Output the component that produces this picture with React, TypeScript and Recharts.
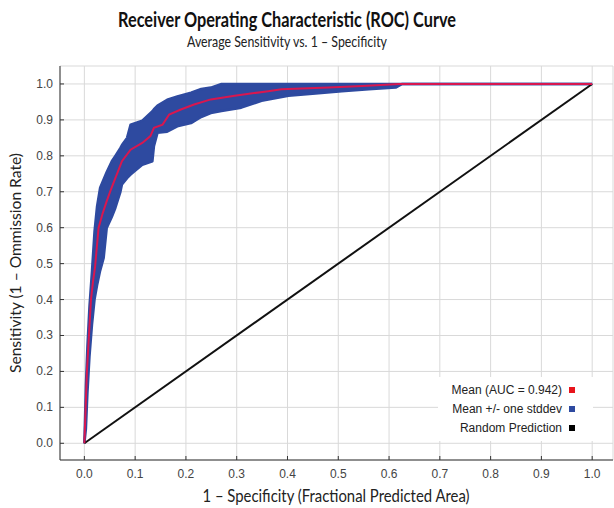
import React from 'react';
import {
  ComposedChart,
  Line,
  Area,
  XAxis,
  YAxis,
  CartesianGrid,
} from 'recharts';

// mean ROC curve
const meanX = [0, 0.002, 0.005, 0.009, 0.013, 0.017, 0.021, 0.028, 0.036, 0.044, 0.052, 0.061, 0.074, 0.091, 0.114, 0.13, 0.137, 0.154, 0.167, 0.19, 0.216, 0.249, 0.296, 0.362, 0.388, 0.481, 0.547, 0.62, 1.0];
const meanY = [0, 0.08, 0.2, 0.3, 0.4, 0.45, 0.49, 0.6, 0.64, 0.674, 0.705, 0.738, 0.785, 0.817, 0.836, 0.855, 0.878, 0.887, 0.915, 0.929, 0.943, 0.957, 0.967, 0.98, 0.985, 0.99, 0.994, 1.0, 1.0];

// mean +/- one stddev band
const bandX = [0, 0.003, 0.006, 0.01, 0.015, 0.02, 0.025, 0.031, 0.038, 0.044, 0.054, 0.061, 0.071, 0.074, 0.084, 0.091, 0.114, 0.134, 0.137, 0.144, 0.163, 0.183, 0.21, 0.23, 0.249, 0.27, 0.309, 0.349, 0.402, 0.461, 0.507, 0.56, 0.613, 0.626, 1.0];
const bandLow = [0, 0.04, 0.14, 0.24, 0.33, 0.4, 0.44, 0.48, 0.516, 0.599, 0.63, 0.655, 0.7, 0.72, 0.738, 0.748, 0.775, 0.785, 0.827, 0.864, 0.867, 0.882, 0.891, 0.908, 0.919, 0.925, 0.934, 0.953, 0.967, 0.974, 0.98, 0.985, 0.99, 1.0, 1.0];
const bandHigh = [0, 0.16, 0.27, 0.38, 0.48, 0.59, 0.66, 0.711, 0.735, 0.755, 0.785, 0.8, 0.822, 0.83, 0.85, 0.887, 0.898, 0.924, 0.93, 0.94, 0.956, 0.965, 0.976, 0.986, 0.99, 1.0, 1.0, 1.0, 1.0, 1.0, 1.0, 1.0, 1.0, 1.0, 1.0];

// random prediction
const diagX = [0, 1];
const diagY = [0, 1];

const xTicks = [0, 0.1, 0.2, 0.3, 0.4, 0.5, 0.6, 0.7, 0.8, 0.9, 1.0];
const yTicks = [0, 0.1, 0.2, 0.3, 0.4, 0.5, 0.6, 0.7, 0.8, 0.9, 1.0];

const legendLabels = ['Mean (AUC = 0.942)', 'Mean +/- one stddev', 'Random Prediction'];
const legendColors = ['#e8141c', '#2e4aa0', '#000000'];

const meanData = meanX.map((x, i) => ({ x, y: meanY[i] }));
const bandData = bandX.map((x, i) => ({ x, range: [bandLow[i], bandHigh[i]] }));
const diagData = diagX.map((x, i) => ({ x, y: diagY[i] }));

const TICK_FONT = '"Liberation Sans", Arial, sans-serif';
const LABEL_FONT = 'Lato, "Open Sans", sans-serif';
const BORDER = '#333';

const BottomTick = (props: any) => {
  const { x, y, payload } = props;
  return (
    <g>
      <line x1={x} x2={x} y1={y} y2={y - 4} stroke={BORDER} />
      <text x={x} y={y + 18} textAnchor="middle" fontSize={12} fill="#444" fontFamily={TICK_FONT}>
        {payload.value.toFixed(1)}
      </text>
    </g>
  );
};

const LeftTick = (props: any) => {
  const { x, y, payload } = props;
  return (
    <g>
      <line x1={x} x2={x + 4} y1={y} y2={y} stroke={BORDER} />
      <text x={x - 7} y={y + 4} textAnchor="end" fontSize={12} fill="#444" fontFamily={TICK_FONT}>
        {payload.value.toFixed(1)}
      </text>
    </g>
  );
};

const TopTick = (props: any) => {
  const { x, y } = props;
  return <line x1={x} x2={x} y1={y} y2={y + 4} stroke={BORDER} />;
};

const RightTick = (props: any) => {
  const { x, y } = props;
  return <line x1={x} x2={x - 4} y1={y} y2={y} stroke={BORDER} />;
};

const X_DOMAIN: [number, number] = [-0.048, 1.041];
const Y_DOMAIN: [number, number] = [-0.0465, 1.05];

const App: React.FC = () => {
  return (
    <div style={{ position: 'absolute', left: 0, top: 0, width: 614, height: 508, background: '#fff' }}>
      <ComposedChart width={614} height={508} margin={{ top: 66, right: 1, left: 0, bottom: 0 }}>
        <CartesianGrid stroke="#d9d9d9" />
        <XAxis
          dataKey="x"
          type="number"
          domain={X_DOMAIN}
          ticks={xTicks}
          interval={0}
          height={48}
          tickSize={0}
          tickMargin={0}
          tick={<BottomTick />}
          tickLine={false}
          axisLine={{ stroke: BORDER }}
          allowDataOverflow
        />
        <XAxis
          xAxisId="top"
          orientation="top"
          dataKey="x"
          type="number"
          domain={X_DOMAIN}
          ticks={xTicks}
          interval={0}
          height={0}
          tickSize={0}
          tickMargin={0}
          tick={<TopTick />}
          tickLine={false}
          axisLine={{ stroke: BORDER }}
          allowDataOverflow
        />
        <YAxis
          type="number"
          domain={Y_DOMAIN}
          ticks={yTicks}
          interval={0}
          width={60}
          tickSize={0}
          tickMargin={0}
          tick={<LeftTick />}
          tickLine={false}
          axisLine={{ stroke: BORDER }}
          allowDataOverflow
        />
        <YAxis
          yAxisId="right"
          orientation="right"
          type="number"
          domain={Y_DOMAIN}
          ticks={yTicks}
          interval={0}
          width={0}
          tickSize={0}
          tickMargin={0}
          tick={<RightTick />}
          tickLine={false}
          axisLine={{ stroke: BORDER }}
          allowDataOverflow
        />
        <Line
          data={diagData}
          dataKey="y"
          type="linear"
          stroke="#111"
          strokeWidth={2}
          dot={false}
          isAnimationActive={false}
        />
        <Area
          data={bandData}
          dataKey="range"
          type="linear"
          stroke="#2e4aa0"
          strokeWidth={2.5}
          strokeLinejoin="round"
          fill="#2e4aa0"
          fillOpacity={1}
          isAnimationActive={false}
        />
        <Line
          data={meanData}
          dataKey="y"
          type="linear"
          stroke="#d8174f"
          strokeWidth={2}
          dot={false}
          isAnimationActive={false}
        />
      </ComposedChart>

      <svg width={614} height={508} style={{ position: 'absolute', left: 0, top: 0, pointerEvents: 'none' }}>
        <text x={287} y={27} textAnchor="middle" fontSize={20} fontWeight="bold" fill="#111" fontFamily={LABEL_FONT} textLength={338} lengthAdjust="spacingAndGlyphs">
          Receiver Operating Characteristic (ROC) Curve
        </text>
        <text x={287} y={47} textAnchor="middle" fontSize={15} fill="#222" fontFamily={LABEL_FONT} textLength={200} lengthAdjust="spacingAndGlyphs">
          Average Sensitivity vs. 1 – Specificity
        </text>
        <text x={336} y={502} textAnchor="middle" fontSize={17} fill="#222" fontFamily={LABEL_FONT} textLength={267} lengthAdjust="spacingAndGlyphs">
          1 – Specificity (Fractional Predicted Area)
        </text>
        <text x={21} y={263} textAnchor="middle" fontSize={16} fill="#222" fontFamily={LABEL_FONT} transform="rotate(-90 21 263)" textLength={220} lengthAdjust="spacingAndGlyphs">
          Sensitivity (1 – Ommission Rate)
        </text>

        <rect x={438} y={377} width={155} height={64} fill="#fff" />
        {legendLabels.map((label, i) => (
          <g key={label}>
            <text x={562} y={394 + i * 19} textAnchor="end" fontSize={12} fill="#222" fontFamily={TICK_FONT}>
              {label}
            </text>
            <rect x={569} y={387 + i * 19} width={6} height={6} fill={legendColors[i]} />
          </g>
        ))}
      </svg>
    </div>
  );
};

export default App;
